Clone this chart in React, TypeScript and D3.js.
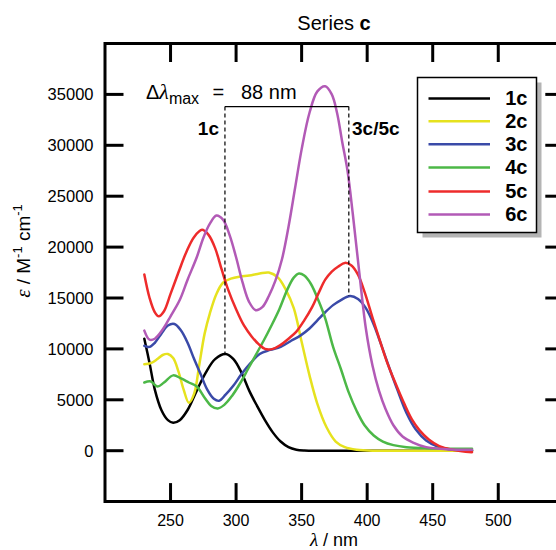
import React from "react";
import * as d3 from "d3";

const xTicks = [250, 300, 350, 400, 450, 500];
const yTicks = [0, 5000, 10000, 15000, 20000, 25000, 30000, 35000];

const seriesNames = ["1c", "2c", "3c", "4c", "5c", "6c"];
const seriesColors = ["#000000", "#e6e21e", "#3a4aa8", "#4cb847", "#ee2b2b", "#b25ab6"];

const lam1c = [230, 234, 238, 243, 248, 252, 257, 263, 270, 277, 284, 292, 298, 304, 310, 316, 322, 328, 334, 340, 346, 352, 365, 400, 440, 480];
const eps1c = [11000, 8600, 6000, 4000, 3000, 2750, 3000, 4000, 5900, 7700, 9000, 9500, 9000, 7700, 5900, 4400, 3000, 1800, 900, 350, 100, 20, 0, 0, 0, 0];

const lam2c = [230, 235, 240, 244, 248, 252, 256, 260, 264, 268, 272, 276, 280, 285, 290, 296, 303, 310, 318, 325, 332, 338, 344, 350, 356, 362, 369, 376, 383, 392, 405, 440, 480];
const eps2c = [8500, 8600, 9000, 9400, 9500, 9100, 7800, 6000, 4700, 5600, 8500, 11500, 13500, 15400, 16500, 16900, 17100, 17200, 17400, 17500, 17000, 15800, 14000, 10700, 7400, 4600, 2300, 900, 350, 100, 0, 0, 0];

const lam3c = [230, 234, 238, 243, 248, 253, 258, 263, 268, 273, 278, 283, 287, 292, 298, 304, 311, 318, 326, 334, 342, 349, 356, 362, 368, 374, 380, 387, 393, 399, 405, 411, 417, 423, 430, 437, 445, 453, 462, 480];
const eps3c = [10300, 10200, 10600, 11500, 12300, 12450, 11800, 10600, 9000, 7500, 6000, 5100, 4900, 5500, 6400, 7500, 8600, 9500, 9900, 10200, 10800, 11300, 12000, 12800, 13600, 14300, 14800, 15200, 14900, 14000, 12400, 10300, 8100, 6000, 3700, 2100, 1000, 450, 150, 50];

const lam4c = [230, 235, 240, 245, 252, 258, 264, 270, 276, 281, 286, 291, 297, 303, 309, 315, 321, 327, 333, 339, 344, 348, 352, 357, 363, 368, 374, 380, 386, 392, 398, 405, 412, 420, 430, 445, 480];
const eps4c = [6700, 6800, 6300, 6700, 7400, 7100, 6700, 6300, 5200, 4400, 4150, 4500, 5400, 6600, 8000, 9400, 10800, 12300, 13900, 15800, 17000, 17400, 17200, 16400, 14700, 13000, 10200, 8000, 5700, 3900, 2500, 1500, 900, 550, 350, 250, 200];

const lam5c = [230, 234, 238, 241, 245, 250, 256, 262, 268, 274, 279, 284, 289, 294, 300, 306, 312, 317, 322, 328, 334, 340, 346, 352, 358, 363, 368, 373, 378, 383, 388, 393, 398, 404, 410, 416, 422, 428, 434, 440, 447, 455, 465, 480];
const eps5c = [17300, 15000, 13600, 13200, 13700, 15400, 17500, 19500, 21000, 21700, 21200, 19900, 17800, 15800, 13900, 12300, 11200, 10500, 10000, 10000, 10400, 11000, 11700, 12800, 14100, 15500, 16800, 17600, 18100, 18450, 18200, 17300, 15600, 13100, 10700, 8400, 6500, 4700, 3100, 2000, 1100, 450, 100, -150];

const lam6c = [230, 234, 238, 244, 250, 257, 263, 270, 275, 280, 285, 290, 295, 300, 305, 310, 315, 320, 325, 330, 335, 340, 345, 350, 356, 362, 368, 373, 377, 381, 385, 389, 394, 399, 404, 409, 414, 420, 427, 435, 445, 460, 480];
const eps6c = [11800, 10900, 11000, 11900, 13200, 14800, 16800, 19000, 20900, 22300, 23100, 22700, 21200, 19000, 16500, 14600, 13800, 14100, 15200, 16700, 18800, 22000, 25800, 29600, 33200, 35300, 35800, 35000, 33200, 30300, 27500, 23300, 17500, 12000, 8400, 5900, 4100, 2500, 1400, 800, 350, 150, 100];

const seriesLam = [lam1c, lam2c, lam3c, lam4c, lam5c, lam6c];
const seriesEps = [eps1c, eps2c, eps3c, eps4c, eps5c, eps6c];

// annotation values
const peakLeft = 291.5;
const peakRight = 386;
const bracketEps = 33800;
const peakLeftEps = 9500;
const peakRightEps = 15200;

const FONT = "'Liberation Sans', Arial, Helvetica, sans-serif";
const GREEK = "'Liberation Serif', 'Times New Roman', serif";

export default function App() {
  const W = 556;
  const H = 550;
  const x = d3.scaleLinear().domain([200, 550]).range([105, 563.8]);
  const y = d3.scaleLinear().domain([-5000, 40000]).range([501.6, 43.5]);
  const x0 = x(200), x1 = x(550), y0 = y(-5000), y1 = y(40000);
  const tickLen = 18.5;

  const line = d3
    .line<[number, number]>()
    .x((d) => x(d[0]))
    .y((d) => y(d[1]))
    .curve(d3.curveCatmullRom.alpha(0.5));

  const legendX = 417.5, legendY = 77.5, legendW = 119, legendH = 155;
  const legendRows = [98.5, 121.3, 144.3, 167.5, 191.5, 214.5];

  return (
    <svg
      width={W}
      height={H}
      viewBox={`0 0 ${W} ${H}`}
      style={{ position: "absolute", left: 0, top: 0, display: "block", background: "#fff" }}
      fontFamily={FONT}
    >
      <rect x={0} y={0} width={W} height={H} fill="#fff" />
      {/* title */}
      <text x={334} y={30} fontSize={20} textAnchor="middle" fill="#000">
        Series <tspan fontWeight="bold">c</tspan>
      </text>

      {/* curves */}
      {seriesNames.map((name, i) => {
        const pts = seriesLam[i].map((l, j) => [l, seriesEps[i][j]] as [number, number]);
        return (
          <path
            key={name}
            d={line(pts) || ""}
            fill="none"
            stroke={seriesColors[i]}
            strokeWidth={2.5}
            strokeLinejoin="round"
            strokeLinecap="round"
          />
        );
      })}

      {/* frame */}
      <g stroke="#000" strokeWidth={3} fill="none">
        <line x1={x0} y1={y1} x2={x1 + 1.5} y2={y1} />
        <line x1={x0} y1={y0} x2={x1 + 1.5} y2={y0} />
        <line x1={x0} y1={y1 - 1.5} x2={x0} y2={y0 + 1.5} />
        <line x1={x1} y1={y1 - 1.5} x2={x1} y2={y0 + 1.5} />
        {xTicks.map((t) => (
          <g key={"xt" + t}>
            <line x1={x(t)} y1={y0} x2={x(t)} y2={y0 - tickLen} />
            <line x1={x(t)} y1={y1} x2={x(t)} y2={y1 + tickLen} />
          </g>
        ))}
        {yTicks.map((t) => (
          <g key={"yt" + t}>
            <line x1={x0} y1={y(t)} x2={x0 + tickLen} y2={y(t)} />
            <line x1={x1} y1={y(t)} x2={x1 - tickLen} y2={y(t)} />
          </g>
        ))}
      </g>

      {/* tick labels */}
      {xTicks.map((t) => (
        <text key={"xl" + t} x={x(t)} y={526} fontSize={16} textAnchor="middle" fill="#000">
          {t}
        </text>
      ))}
      {yTicks.map((t) => (
        <text key={"yl" + t} x={93.5} y={y(t) + 6} fontSize={16.5} textAnchor="end" fill="#000">
          {t}
        </text>
      ))}

      {/* axis titles */}
      <text x={334} y={545.5} fontSize={18} textAnchor="middle" fill="#000">
        <tspan fontStyle="italic" fontFamily={GREEK} fontSize={19}>λ</tspan> / nm
      </text>
      <text
        transform={`translate(29.5,251) rotate(-90)`}
        fontSize={19}
        textAnchor="middle"
        fill="#000"
      >
        <tspan fontStyle="italic" fontFamily={GREEK} fontSize={21}>ε</tspan>
        <tspan> / M</tspan>
        <tspan fontSize={13} dy={-8}>-1</tspan>
        <tspan dy={8}> cm</tspan>
        <tspan fontSize={13} dy={-8}>-1</tspan>
      </text>

      {/* annotation */}
      <g stroke="#000" fill="none">
        <line x1={x(peakLeft)} y1={y(bracketEps)} x2={x(peakRight)} y2={y(bracketEps)} strokeWidth={1.3} />
        <line x1={x(peakLeft)} y1={y(bracketEps)} x2={x(peakLeft)} y2={y(peakLeftEps)} strokeWidth={1.2} strokeDasharray="4,3" />
        <line x1={x(peakRight)} y1={y(bracketEps)} x2={x(peakRight)} y2={y(peakRightEps)} strokeWidth={1.2} strokeDasharray="4,3" />
      </g>
      <text x={146} y={98.5} fontSize={20} fill="#000">
        Δ<tspan fontStyle="italic" fontFamily={GREEK} fontSize={22}>λ</tspan>
        <tspan fontSize={16} dy={5}>max</tspan>
      </text>
      <text x={212.5} y={98.5} fontSize={20} fill="#000">=</text>
      <text x={241} y={98.5} fontSize={20} fill="#000">88 nm</text>
      <text x={219} y={134.5} fontSize={19} fontWeight="bold" textAnchor="end" fill="#000">1c</text>
      <text x={352} y={134.5} fontSize={19} fontWeight="bold" fill="#000">3c/5c</text>

      {/* legend */}
      <rect x={legendX + 5} y={legendY + 5} width={legendW} height={legendH} fill="#b4b4b4" />
      <rect x={legendX} y={legendY} width={legendW} height={legendH} fill="#fff" stroke="#000" strokeWidth={1.5} />
      {seriesNames.map((name, i) => (
        <g key={"lg" + name}>
          <line x1={428.5} x2={490} y1={legendRows[i]} y2={legendRows[i]} stroke={seriesColors[i]} strokeWidth={2.5} />
          <text x={527.5} y={legendRows[i] + 6.5} fontSize={20} fontWeight="bold" textAnchor="end" fill="#000">
            {name}
          </text>
        </g>
      ))}
    </svg>
  );
}
